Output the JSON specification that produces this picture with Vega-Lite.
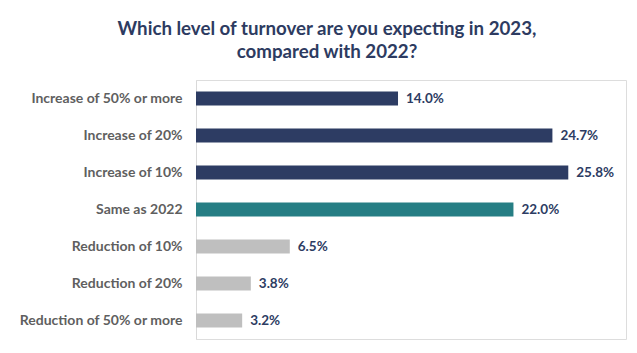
{
  "$schema": "https://vega.github.io/schema/vega-lite/v6.json",
  "autosize": "none",
  "width": 430,
  "height": 259,
  "padding": {"left": 196, "top": 80, "right": 11, "bottom": 14},
  "background": "white",
  "title": {
    "text": ["Which level of turnover are you expecting in 2023,", "compared with 2022?"],
    "anchor": "middle",
    "dx": -84,
    "offset": 18,
    "font": "Lato",
    "fontSize": 18.7,
    "fontWeight": "bold",
    "color": "#2D3B61",
    "lineHeight": 23
  },
  "data": {
    "values": [
      {"category": "Increase of 50% or more", "value": 14.0, "group": "increase"},
      {"category": "Increase of 20%", "value": 24.7, "group": "increase"},
      {"category": "Increase of 10%", "value": 25.8, "group": "increase"},
      {"category": "Same as 2022", "value": 22.0, "group": "same"},
      {"category": "Reduction of 10%", "value": 6.5, "group": "reduction"},
      {"category": "Reduction of 20%", "value": 3.8, "group": "reduction"},
      {"category": "Reduction of 50% or more", "value": 3.2, "group": "reduction"}
    ]
  },
  "transform": [
    {"calculate": "format(datum.value, '.1f') + '%'", "as": "label"}
  ],
  "encoding": {
    "y": {
      "field": "category",
      "type": "nominal",
      "sort": null,
      "scale": {"paddingInner": 0.62, "paddingOuter": 0.31},
      "axis": {
        "title": null,
        "ticks": false,
        "domainColor": "#D9D9D9",
        "domainWidth": 1,
        "labelPadding": 14,
        "labelFont": "Lato",
        "labelFontSize": 14,
        "labelFontWeight": "bold",
        "labelColor": "#5F5F5F",
        "labelLimit": 250
      }
    },
    "x": {
      "field": "value",
      "type": "quantitative",
      "scale": {"domain": [0, 29.8]},
      "axis": null
    }
  },
  "layer": [
    {
      "mark": {"type": "bar"},
      "encoding": {
        "color": {
          "field": "group",
          "type": "nominal",
          "scale": {"domain": ["increase", "same", "reduction"], "range": ["#2D3C63", "#267E84", "#BFBFBF"]},
          "legend": null
        }
      }
    },
    {
      "mark": {"type": "text", "align": "left", "dx": 8, "font": "Lato", "fontSize": 13.5, "fontWeight": "bold", "color": "#2D3C63"},
      "encoding": {
        "text": {"field": "label", "type": "nominal"}
      }
    }
  ]
}
